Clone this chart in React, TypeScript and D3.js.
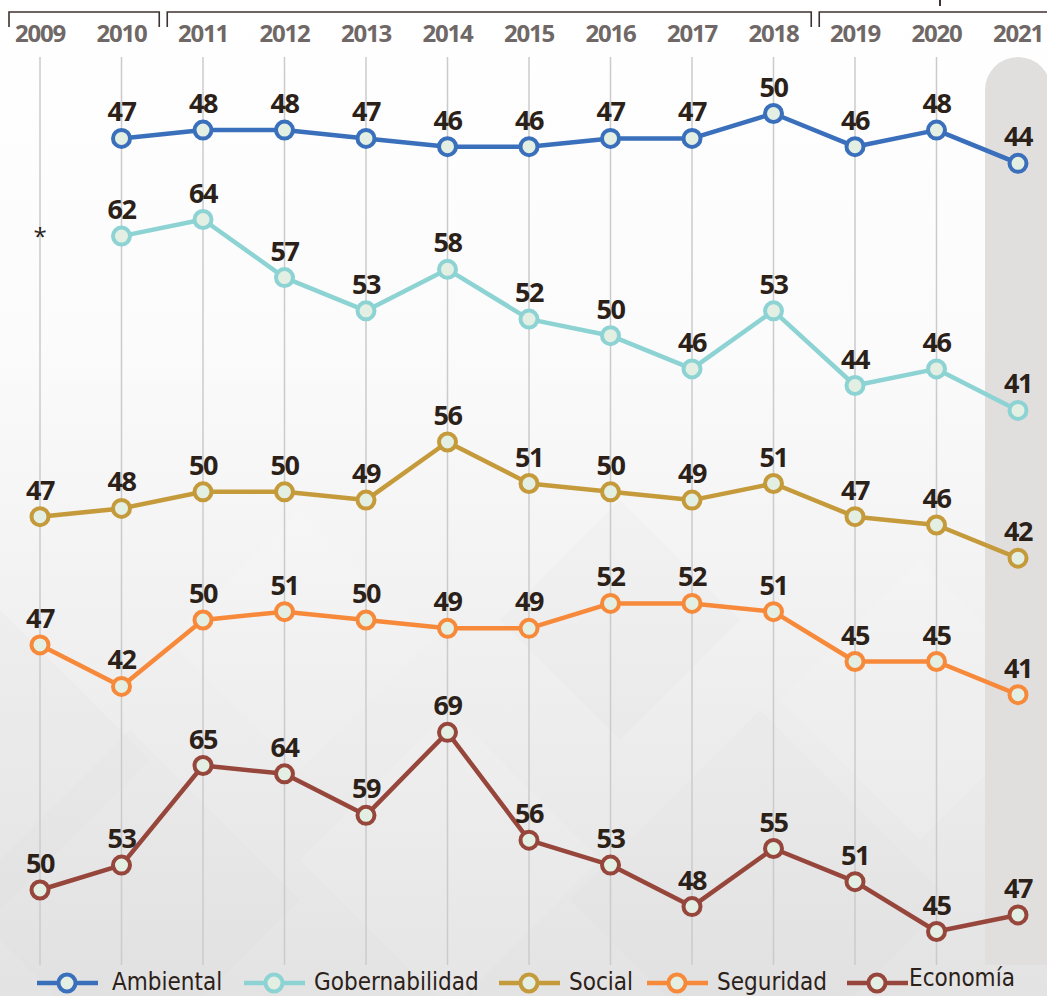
import React from 'react';
import * as d3 from 'd3';

const years = [2009, 2010, 2011, 2012, 2013, 2014, 2015, 2016, 2017, 2018, 2019, 2020, 2021];

const ambiental = [null, 47, 48, 48, 47, 46, 46, 47, 47, 50, 46, 48, 44];
const gobernabilidad = [null, 62, 64, 57, 53, 58, 52, 50, 46, 53, 44, 46, 41];
const social = [47, 48, 50, 50, 49, 56, 51, 50, 49, 51, 47, 46, 42];
const seguridad = [47, 42, 50, 51, 50, 49, 49, 52, 52, 51, 45, 45, 41];
const economia = [50, 53, 65, 64, 59, 69, 56, 53, 48, 55, 51, 45, 47];

const seriesNames = ['Ambiental', 'Gobernabilidad', 'Social', 'Seguridad', 'Economía'];
const seriesValues = [ambiental, gobernabilidad, social, seguridad, economia];
const seriesColors = ['#3a6fbb', '#8dd3d4', '#c59a3b', '#f7893a', '#96463b'];

// year groups shown with brackets at the top
const groups = [
	[2009, 2010],
	[2011, 2018],
	[2019, 2021],
];

const W = 1047;
const H = 996;
// each line sits in its own band: pixel position of the value 0
const bands = [528.5, 750.7, 906.8, 1035, 1305];
const pxPerUnit = 8.3;

const useD3 = (renderFn, deps) => {
	const ref = React.useRef(null);
	React.useEffect(() => {
		const svg = d3.select(ref.current);
		svg.selectAll('*').remove();
		renderFn(svg);
	}, deps);
	return ref;
};

function Chart() {
	const ref = useD3((svg) => {
		const x = d3.scalePoint().domain(years).range([40, 1018]);
		const step = x.step();
		const gridTop = 57;
		const gridBottom = 965;

		const defs = svg.append('defs');
		const grad = defs
			.append('linearGradient')
			.attr('id', 'bg')
			.attr('x1', 0)
			.attr('y1', 0)
			.attr('x2', 0)
			.attr('y2', 1);
		grad.append('stop').attr('offset', '0%').attr('stop-color', '#ffffff');
		grad.append('stop').attr('offset', '35%').attr('stop-color', '#fbfbfb');
		grad.append('stop').attr('offset', '100%').attr('stop-color', '#e3e3e3');

		svg.append('rect').attr('width', W).attr('height', H).attr('fill', 'url(#bg)');

		// faint diamond pattern in the background
		const diamonds = [
			[130, 900, 170],
			[450, 860, 150],
			[760, 900, 190],
			[300, 640, 130],
			[620, 620, 120],
			[920, 700, 140],
			[0, 760, 150],
		];
		svg
			.append('g')
			.selectAll('path')
			.data(diamonds)
			.join('path')
			.attr('d', ([cx, cy, r]) => `M${cx},${cy - r}L${cx + r},${cy}L${cx},${cy + r}L${cx - r},${cy}Z`)
			.attr('fill', (d, i) => (i % 2 ? '#ffffff' : '#d8d8d8'))
			.attr('opacity', 0.1);

		// highlighted last year
		const cx = x(2021);
		const colW = 66;
		svg
			.append('path')
			.attr(
				'd',
				`M${cx - colW / 2},${gridBottom}V${gridTop + colW / 2}A${colW / 2},${colW / 2} 0 0 1 ${cx + colW / 2},${
					gridTop + colW / 2
				}V${gridBottom}Z`
			)
			.attr('fill', '#e1dfde');

		// gridlines
		svg
			.append('g')
			.selectAll('line')
			.data(years.slice(0, -1))
			.join('line')
			.attr('x1', (d) => x(d))
			.attr('x2', (d) => x(d))
			.attr('y1', gridTop)
			.attr('y2', gridBottom)
			.attr('stroke', '#cbcbcb')
			.attr('stroke-width', 1.5);

		// brackets
		svg
			.append('g')
			.selectAll('path')
			.data(groups)
			.join('path')
			.attr('d', ([a, b], i) => {
				const l = i === 0 ? 9 : x(a) - step / 2 + 5;
				const r = i === groups.length - 1 ? W + 5 : x(b) + step / 2 - 3;
				return `M${l},27V12H${r}V27`;
			})
			.attr('fill', 'none')
			.attr('stroke', '#3d3330')
			.attr('stroke-width', 1.6);
		svg
			.append('line')
			.attr('x1', 940)
			.attr('x2', 940)
			.attr('y1', 0)
			.attr('y2', 6)
			.attr('stroke', '#3d3330')
			.attr('stroke-width', 2);

		// year labels
		svg
			.append('g')
			.selectAll('text')
			.data(years)
			.join('text')
			.attr('x', (d) => x(d))
			.attr('y', 42)
			.attr('text-anchor', 'middle')
			.attr('font-family', 'Open Sans, sans-serif')
			.attr('font-weight', 700)
			.attr('font-size', 24)
			.attr('letter-spacing', -1.2)
			.attr('fill', '#6f6866')
			.text((d) => d);

		// series
		seriesValues.forEach((vals, si) => {
			const y = d3
				.scaleLinear()
				.domain([0, 100])
				.range([bands[si], bands[si] - 100 * pxPerUnit]);
			const pts = vals.map((v, i) => ({ year: years[i], v })).filter((d) => d.v !== null);
			const color = seriesColors[si];
			const g = svg.append('g');
			g.append('path')
				.datum(pts)
				.attr(
					'd',
					d3
						.line()
						.x((d) => x(d.year))
						.y((d) => y(d.v))
				)
				.attr('fill', 'none')
				.attr('stroke', color)
				.attr('stroke-width', 4.5)
				.attr('stroke-linejoin', 'round');
			g.selectAll('circle')
				.data(pts)
				.join('circle')
				.attr('cx', (d) => x(d.year))
				.attr('cy', (d) => y(d.v))
				.attr('r', 8.5)
				.attr('fill', '#e2efe2')
				.attr('stroke', color)
				.attr('stroke-width', 4);
			g.selectAll('text')
				.data(pts)
				.join('text')
				.attr('x', (d) => x(d.year))
				.attr('y', (d) => y(d.v) - 17)
				.attr('text-anchor', 'middle')
				.attr('font-family', 'Open Sans, sans-serif')
				.attr('font-weight', 700)
				.attr('font-size', 27)
				.attr('letter-spacing', -1.5)
				.attr('fill', '#2b2119')
				.text((d) => d.v);
			if (si === 1) {
				// no data for the first year
				g.append('text')
					.attr('x', x(2009))
					.attr('y', y(62) + 9)
					.attr('text-anchor', 'middle')
					.attr('font-family', 'Open Sans, sans-serif')
					.attr('font-size', 24)
					.attr('fill', '#2b2119')
					.text('*');
			}
		});

		// legend
		const legendX = [67, 274, 529, 677, 877];
		const legendY = 983;
		const lg = svg
			.append('g')
			.selectAll('g')
			.data(seriesNames)
			.join('g')
			.attr('transform', (d, i) => `translate(${legendX[i]},${legendY})`);
		lg.append('line')
			.attr('x1', -30)
			.attr('x2', 31)
			.attr('stroke', (d, i) => seriesColors[i])
			.attr('stroke-width', 4.5);
		lg.append('circle')
			.attr('r', 8.5)
			.attr('fill', '#e2efe2')
			.attr('stroke', (d, i) => seriesColors[i])
			.attr('stroke-width', 4);
		lg.append('text')
			.attr('x', (d, i) => (i === 4 ? 32 : 45 - (i === 0 ? 0 : 5)))
			.attr('y', (d, i) => (i === 4 ? 3 : 7))
			.attr('font-family', 'DejaVu Sans Condensed, DejaVu Sans, sans-serif')
			.attr('font-size', 24)
			.attr('fill', '#2b2119')
			.text((d) => d);
	}, []);

	return <svg ref={ref} width={W} height={H} style={{ display: 'block' }} />;
}

export default function App() {
	return (
		<div style={{ position: 'absolute', left: 0, top: 0, width: W, height: H, overflow: 'hidden' }}>
			<Chart />
		</div>
	);
}
